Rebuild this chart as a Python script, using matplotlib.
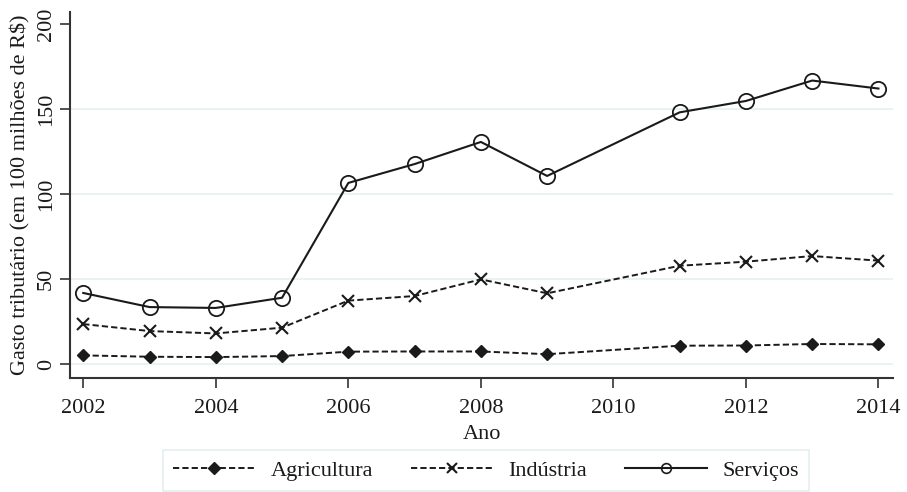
import matplotlib.pyplot as plt
from matplotlib.lines import Line2D

plt.rcParams['font.family'] = ['Liberation Serif', 'DejaVu Serif']

anos = [2002, 2003, 2004, 2005, 2006, 2007, 2008, 2009, 2011, 2012, 2013, 2014]
agricultura = [5.1, 4.3, 4.1, 4.7, 7.3, 7.4, 7.4, 5.8, 10.8, 10.9, 11.8, 11.6]
industria = [23.5, 19.4, 18.0, 21.4, 37.3, 40.0, 49.8, 41.6, 57.8, 60.2, 63.5, 60.8]
servicos = [41.8, 33.5, 33.0, 39.0, 106.5, 117.6, 130.6, 110.6, 148.0, 154.7, 166.7, 162.0]

xticks = [2002, 2004, 2006, 2008, 2010, 2012, 2014]
yticks = [0, 50, 100, 150, 200]

cor = '#1a1a1a'
fs = 16

fig = plt.figure(figsize=(9.07, 4.92), dpi=100)
ax = fig.add_axes([0.0772, 0.2317, 0.9074, 0.7439])

for y in [0, 50, 100, 150]:
    ax.axhline(y, color='#e6f0f2', lw=1.2, zorder=0)

ax.plot(anos, agricultura, ls=(0, (3.2, 1.6)), color=cor, lw=1.4,
        marker='D', ms=6, mfc=cor, mec=cor)
ax.plot(anos, industria, ls=(0, (3.2, 1.6)), color=cor, lw=1.4,
        marker='x', ms=9, mew=1.5, mec=cor)
ax.plot(anos, servicos, ls='-', color=cor, lw=1.5,
        marker='o', ms=11, mfc='none', mec=cor, mew=1.3)

ax.set_xlim(2001.8, 2014.22)
ax.set_ylim(-8.2, 207)
ax.set_xticks(xticks)
ax.set_yticks(yticks)
ax.tick_params(axis='both', direction='out', length=7, width=1.2,
               color='#333333', labelsize=fs, labelcolor=cor)
for lab in ax.get_yticklabels():
    lab.set_rotation(90)
    lab.set_va('center')
ax.tick_params(axis='y', pad=3)
ax.tick_params(axis='x', pad=8)

for s in ['top', 'right']:
    ax.spines[s].set_visible(False)
for s in ['left', 'bottom']:
    ax.spines[s].set_color('#333333')
    ax.spines[s].set_linewidth(1.5)

ax.set_xlabel('Ano', fontsize=fs, color=cor, labelpad=5)
ax.set_ylabel('Gasto tributário (em 100 milhões de R$)', fontsize=fs,
              color=cor, labelpad=5)

handles = [
    Line2D([], [], ls=(0, (3.2, 1.6)), color=cor, lw=1.4, marker='D',
           ms=6, mfc=cor, mec=cor),
    Line2D([], [], ls=(0, (3.2, 1.6)), color=cor, lw=1.4, marker='x',
           ms=7, mew=1.5, mec=cor),
    Line2D([], [], ls='-', color=cor, lw=1.5, marker='o', ms=7,
           mfc='none', mec=cor, mew=1.2),
]
leg = fig.legend(handles, ['Agricultura', 'Indústria', 'Serviços'],
                 loc='lower center', bbox_to_anchor=(0.536, 0.003), ncol=3,
                 fontsize=fs, handlelength=3.7, handletextpad=0.7,
                 columnspacing=1.7, frameon=True, fancybox=False,
                 borderpad=0.45, borderaxespad=0.0)
leg.get_frame().set_edgecolor('#e0eaec')
leg.get_frame().set_linewidth(1.2)
for t in leg.get_texts():
    t.set_color(cor)

fig.savefig('out.png', dpi=100)
